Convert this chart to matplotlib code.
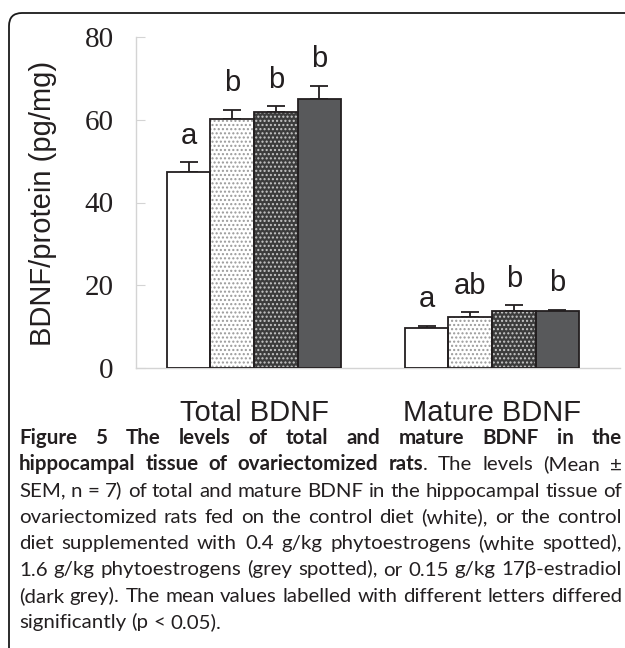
import numpy as np
import matplotlib.pyplot as plt
from matplotlib.patches import FancyBboxPatch
from matplotlib.transforms import IdentityTransform

groups = ['Total BDNF', 'Mature BDNF']
total_mean = [47.4, 60.2, 61.9, 65.0]
total_sem = [2.4, 2.2, 1.4, 3.2]
mature_mean = [9.7, 12.3, 13.8, 13.8]
mature_sem = [0.5, 1.2, 1.4, 0.3]
total_letters = ['a', 'b', 'b', 'b']
mature_letters = ['a', 'ab', 'b', 'b']
yticks = [0, 20, 40, 60, 80]

caption = [
    [("Figure 5 The levels of total and mature BDNF in the", True)],
    [("hippocampal tissue of ovariectomized rats", True), (". The levels (Mean \u00b1", False)],
    [("SEM, n = 7) of total and mature BDNF in the hippocampal tissue of", False)],
    [("ovariectomized rats fed on the control diet (white), or the control", False)],
    [("diet supplemented with 0.4 g/kg phytoestrogens (white spotted),", False)],
    [("1.6 g/kg phytoestrogens (grey spotted), or 0.15 g/kg 17\u03b2-estradiol", False)],
    [("(dark grey). The mean values labelled with different letters differed", False)],
    [("significantly (p < 0.05).", False)],
]

W, H = 625, 648
fig = plt.figure(figsize=(W / 100, H / 100), dpi=100)
ax = fig.add_axes([136 / W, 1 - 368 / H, 484 / W, 331 / H])

ink = '#231f20'
faces = ['white', 'white', '#3c3c3c', '#58595b']
hatches = [None, '....', '....', None]
hatch_cols = ['white', '#9a9a9a', '#c8c8c8', '#58595b']
plt.rcParams['hatch.linewidth'] = 1.0

bw = 0.183
offs = (np.arange(4) - 1.5) * bw
for gi, (means, sems, letters) in enumerate([(total_mean, total_sem, total_letters),
                                             (mature_mean, mature_sem, mature_letters)]):
    xs = gi + offs
    ax.errorbar(xs, means, yerr=[np.zeros(4), sems], fmt='none', ecolor=ink,
                elinewidth=1.3, capsize=6.5, capthick=1.3, zorder=1)
    for i in range(4):
        ax.bar(xs[i], means[i], bw, color=faces[i], hatch=hatches[i],
               edgecolor=hatch_cols[i], linewidth=0, zorder=2)
        ax.bar(xs[i], means[i], bw, fill=False, edgecolor=ink, linewidth=1.3, zorder=3)
        ax.text(xs[i], means[i] + sems[i] + 3.0, letters[i], ha='center', va='bottom',
                fontsize=21, family='Liberation Sans', color=ink)

ax.set_xlim(-0.496, 1.538)
ax.set_ylim(0, 80)
ax.set_yticks(yticks)
ax.set_yticklabels([str(t) for t in yticks], family='Liberation Serif', fontsize=21, color=ink)
ax.set_xticks([0, 1])
ax.set_xticklabels(groups, family='Liberation Sans', fontsize=21, color=ink)
ax.tick_params(axis='x', length=0, pad=22)
ax.tick_params(axis='y', direction='in', length=6.5, color='#d4d4d4', pad=16)
for s in ['top', 'right']:
    ax.spines[s].set_visible(False)
for s in ['left', 'bottom']:
    ax.spines[s].set_color('#d4d4d4')
    ax.spines[s].set_linewidth(1.0)

fig.text(43 / W, 1 - 203 / H, 'BDNF/protein (pg/mg)', rotation=90, ha='center',
         va='center', family='Liberation Sans', fontsize=21, color=ink)

# frame with rounded top-left corner
frame = FancyBboxPatch((9, -60), 700, H - 13 + 60, boxstyle='round,pad=0,rounding_size=13',
                       fill=False, edgecolor='#1a1a1a', linewidth=1.3,
                       transform=IdentityTransform())
fig.add_artist(frame)

# justified caption
renderer = fig.canvas.get_renderer()
cap_font = 'Lato'


def words_of(line):
    words = []
    for txt, bold in line:
        parts = txt.split(' ')
        for k, p in enumerate(parts):
            if p == '':
                continue
            if k == 0 and words and not txt.startswith(' '):
                words[-1].append((p, bold))
            else:
                words.append([(p, bold)])
    return words


def chunk_width(s, bold, size):
    t = fig.text(0, 0, s, fontsize=size, family=cap_font,
                 weight='bold' if bold else 'normal')
    w = t.get_window_extent(renderer).width
    t.remove()
    return w


left, right = 19, 622
size = 10.0
nat = []
for line in caption[2:7]:
    ws = words_of(line)
    tot = sum(chunk_width(s, b, size) for w in ws for s, b in w)
    sp = chunk_width('a a', False, size) - 2 * chunk_width('a', False, size)
    nat.append(tot + sp * (len(ws) - 1))
size = size * (right - left - 3) / max(nat)

base0 = 444
for li, line in enumerate(caption):
    ws = words_of(line)
    widths = [[chunk_width(s, b, size) for s, b in w] for w in ws]
    tot = sum(sum(w) for w in widths)
    if li < len(caption) - 1:
        gap = (right - left - tot) / (len(ws) - 1)
    else:
        gap = chunk_width('a a', False, size) - 2 * chunk_width('a', False, size)
    x = left
    y = base0 + li * 26.3
    for w, wl in zip(ws, widths):
        for (s, b), cw in zip(w, wl):
            fig.text(x / W, 1 - y / H, s, fontsize=size, family=cap_font,
                     weight='bold' if b else 'normal', color=ink, va='baseline')
            x += cw
        x += gap

fig.savefig('out.png', dpi=100)
